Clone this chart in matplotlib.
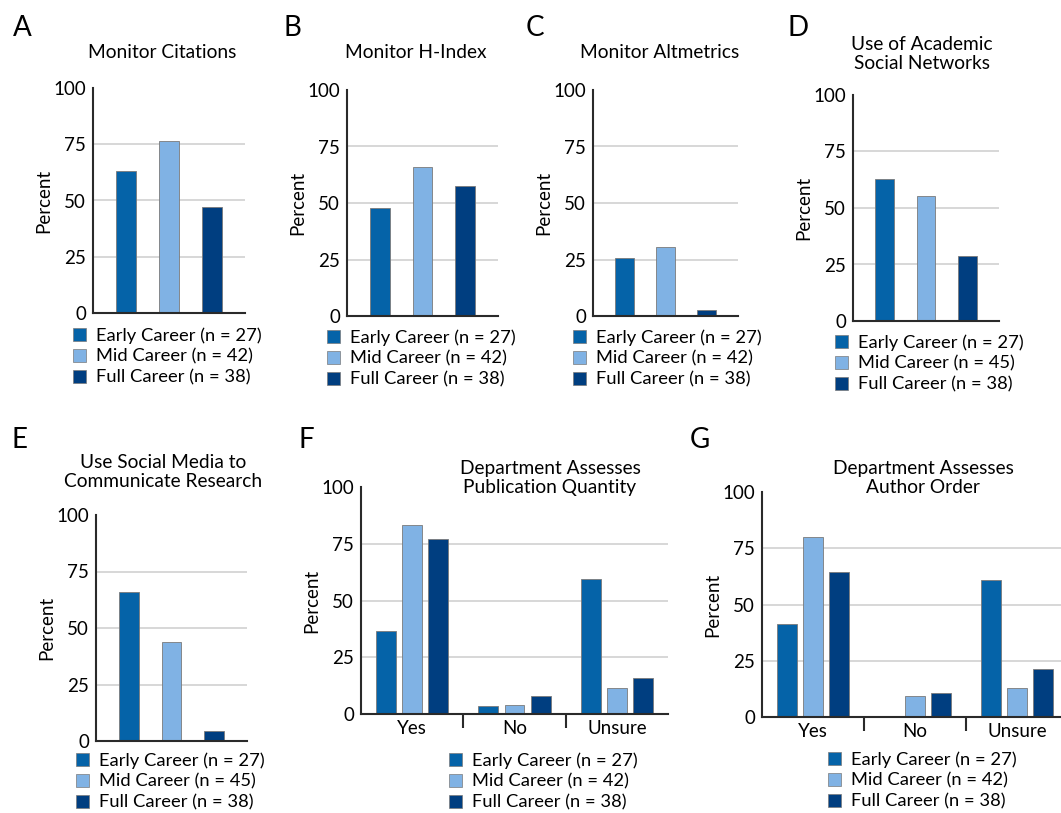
import matplotlib
matplotlib.use('Agg')
import matplotlib.pyplot as plt
from matplotlib.patches import Patch

# ---------------- data ----------------
groups = ['Early Career', 'Mid Career', 'Full Career']
n_main = [27, 42, 38]
n_alt = [27, 45, 38]          # panels D and E

citations = [63.1, 76.3, 47.3]
h_index = [47.9, 66.1, 57.5]
altmetrics = [25.8, 30.7, 2.7]
academic_networks = [62.8, 55.3, 28.9]
social_media = [65.8, 43.7, 4.6]

responses = ['Yes', 'No', 'Unsure']
pub_quantity_early = [36.5, 3.5, 59.4]
pub_quantity_mid = [83.1, 4.0, 11.6]
pub_quantity_full = [77.1, 7.9, 15.7]
author_order_early = [41.2, 0.0, 60.9]
author_order_mid = [79.8, 9.2, 12.9]
author_order_full = [64.6, 10.8, 21.5]

yticks = [0, 25, 50, 75, 100]

# ---------------- style ----------------
W, H = 1061, 813
plt.rcParams['font.family'] = ['Lato', 'DejaVu Sans']
colors = ['#0563a8', '#80b2e4', '#003e80']
edge = '#7a7a7a'
grid_c = '#d4d4d4'
spine_c = '#2a2a2a'
FS = 13.5
LFS = 13.2
TFS = 13.8

fig = plt.figure(figsize=(W / 100, H / 100), dpi=100)


def px_axes(l, r, t, b):
    return fig.add_axes([l / W, 1 - b / H, (r - l) / W, (b - t) / H])


def style_axes(ax):
    ax.set_ylim(0, 100)
    ax.set_yticks(yticks)
    ax.set_yticklabels([str(v) for v in yticks], fontsize=FS)
    ax.tick_params(axis='y', length=0, pad=5)
    for s in ['top', 'right']:
        ax.spines[s].set_visible(False)
    for s in ['left', 'bottom']:
        ax.spines[s].set_color(spine_c)
        ax.spines[s].set_linewidth(1.5)
    for v in [25, 50, 75]:
        ax.axhline(v, color=grid_c, lw=1.3, zorder=0)
    ax.set_ylabel('Percent', fontsize=FS, labelpad=1)


def legend(x, y, ns):
    handles = [Patch(facecolor=c, edgecolor=edge, lw=0.5) for c in colors]
    labels = [f'{g} (n = {n})' for g, n in zip(groups, ns)]
    fig.legend(handles, labels, loc='upper left', bbox_to_anchor=(x / W, 1 - y / H),
               frameon=False, fontsize=LFS, borderpad=0, borderaxespad=0,
               handlelength=0.72, handleheight=0.72, handletextpad=0.55,
               labelspacing=0.27)


def simple_panel(box, values, title, tpos, letter, lpos, legpos, ns):
    ax = px_axes(*box)
    x = range(len(values))
    ax.bar(x, values, width=0.46, color=colors, edgecolor=edge, lw=0.6, zorder=2)
    ax.set_xlim(-0.77, 2.77)
    ax.set_xticks([])
    style_axes(ax)
    fig.text(tpos[0] / W, 1 - tpos[1] / H, title, ha='center', va='center',
             fontsize=TFS, linespacing=1.2)
    fig.text(lpos[0] / W, 1 - lpos[1] / H, letter, ha='center', va='center', fontsize=20)
    legend(legpos[0], legpos[1], ns)
    return ax


def grouped_panel(box, series, title, tpos, letter, lpos, legpos, ns):
    ax = px_axes(*box)
    offsets = [-0.255, 0.0, 0.255]
    for vals, off, c in zip(series, offsets, colors):
        ax.bar([i + off for i in range(len(responses))], vals, width=0.195,
               color=c, edgecolor=edge, lw=0.6, zorder=2)
    ax.set_xlim(-0.5, 2.5)
    ax.set_xticks(range(len(responses)))
    ax.set_xticklabels(responses, fontsize=FS)
    ax.tick_params(axis='x', which='major', length=0, pad=4)
    ax.set_xticks([0.5, 1.5], minor=True)
    ax.tick_params(axis='x', which='minor', length=10, width=1.5, color=spine_c, direction='out')
    style_axes(ax)
    fig.text(tpos[0] / W, 1 - tpos[1] / H, title, ha='center', va='center',
             fontsize=TFS, linespacing=1.2)
    fig.text(lpos[0] / W, 1 - lpos[1] / H, letter, ha='center', va='center', fontsize=20)
    legend(legpos[0], legpos[1], ns)
    return ax


simple_panel((93, 245, 88, 313), citations, 'Monitor Citations', (162, 52), 'A', (22, 28), (73, 327), n_main)
simple_panel((347, 498, 90, 316), h_index, 'Monitor H-Index', (416, 53), 'B', (292, 28), (327, 329), n_main)
simple_panel((593, 738, 90, 316), altmetrics, 'Monitor Altmetrics', (660, 53), 'C', (535, 28), (573, 329), n_main)
simple_panel((853, 999, 95, 321), academic_networks, 'Use of Academic\nSocial Networks', (922, 54),
             'D', (798, 28), (835, 334), n_alt)
simple_panel((96, 247, 515, 741), social_media, 'Use Social Media to\nCommunicate Research', (163, 472),
             'E', (19, 440), (76, 752), n_alt)
grouped_panel((361, 668, 487, 714), [pub_quantity_early, pub_quantity_mid, pub_quantity_full],
              'Department Assesses\nPublication Quantity', (550, 478), 'F', (306, 440), (449, 752), n_main)
grouped_panel((762, 1068, 492, 717), [author_order_early, author_order_mid, author_order_full],
              'Department Assesses\nAuthor Order', (923, 478), 'G', (700, 440), (828, 751), n_main)

fig.savefig('out.png', dpi=100)
